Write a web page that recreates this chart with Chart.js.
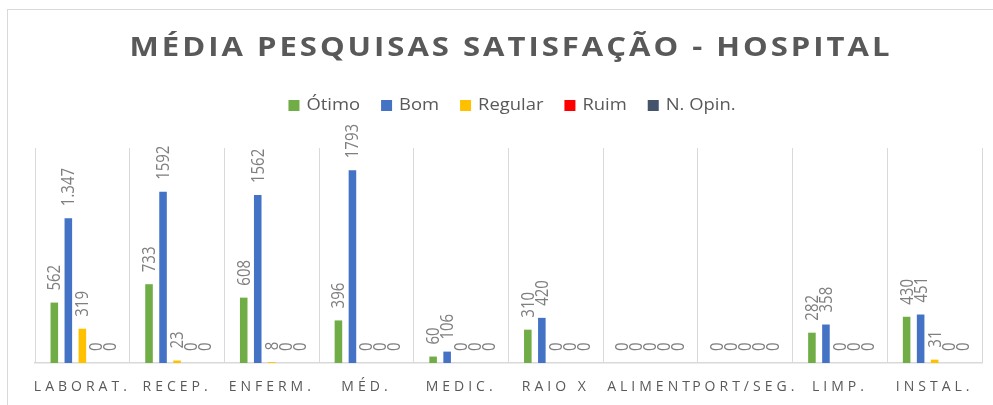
<!DOCTYPE html>
<html>
<head>
<meta charset="utf-8">
<script src="https://cdn.jsdelivr.net/npm/chart.js@4.4.0/dist/chart.umd.min.js"></script>
<style>
  html, body { margin: 0; padding: 0; background: #fff; overflow: hidden; }
  #moldura { position: absolute; left: 7px; top: 9px; width: 1004px; height: 410px; border: 1px solid #d9d9d9; }
  canvas { display: block; }
</style>
</head>
<body>
<div id="moldura"><canvas id="grafico" width="1004" height="410"></canvas></div>
<script>
const titulo = 'MÉDIA PESQUISAS SATISFAÇÃO - HOSPITAL';
const categorias = ['LABORAT.', 'RECEP.', 'ENFERM.', 'MÉD.', 'MEDIC.', 'RAIO X', 'ALIMENT', 'PORT/SEG.', 'LIMP.', 'INSTAL.'];
const otimo   = [562, 733, 608, 396, 60, 310, 0, 0, 282, 430];
const bom     = [1347, 1592, 1562, 1793, 106, 420, 0, 0, 358, 451];
const regular = [319, 23, 8, 0, 0, 0, 0, 0, 0, 31];
const ruim    = [0, 0, 0, 0, 0, 0, 0, 0, 0, 0];
const nOpin   = [0, 0, 0, 0, 0, 0, 0, 0, 0, 0];
// no original só este rótulo saiu com separador de milhar
const rotuloBomLaborat = '1.347';

const cinzaTexto = '#595959';
const esticar = 1.15; // o original tem o texto um pouco alargado

// rótulos de dados na vertical, acima de cada barra
const rotulos = {
    id: 'rotulos',
    afterDatasetsDraw(chart) {
        const ctx = chart.ctx;
        ctx.save();
        ctx.font = '15px "Open Sans"';
        ctx.fillStyle = '#7f7f7f';
        ctx.textAlign = 'left';
        ctx.textBaseline = 'middle';
        chart.data.datasets.forEach((ds, d) => {
            chart.getDatasetMeta(d).data.forEach((bar, i) => {
                let texto = String(ds.data[i]);
                if (d === 1 && i === 0) texto = rotuloBomLaborat;
                ctx.save();
                ctx.translate(bar.x + 1, bar.y - 12);
                ctx.rotate(-Math.PI / 2);
                ctx.scale(1, esticar);
                ctx.fillText(texto, 0, 0);
                ctx.restore();
            });
        });
        ctx.restore();
    }
};

// título, legenda e categorias com espaçamento entre letras
const textos = {
    id: 'textos',
    afterDraw(chart) {
        const ctx = chart.ctx;
        ctx.save();
        ctx.fillStyle = cinzaTexto;
        ctx.textBaseline = 'middle';

        ctx.save();
        ctx.font = 'bold 27px "Open Sans"';
        ctx.letterSpacing = '2.6px';
        ctx.textAlign = 'center';
        ctx.translate(chart.width / 2 + 1, 38.5);
        ctx.scale(esticar, 1);
        ctx.fillText(titulo, 0, 0);
        ctx.restore();

        ctx.font = '16px "Open Sans"';
        ctx.letterSpacing = '0px';
        ctx.textAlign = 'left';
        const itens = chart.data.datasets.map(ds => ({
            texto: ds.label,
            cor: ds.backgroundColor,
            largura: ctx.measureText(ds.label).width * esticar
        }));
        const total = itens.reduce((s, it) => s + 11 + 7 + it.largura, 0) + 21 * (itens.length - 1);
        let x = 504 - total / 2;
        itens.forEach(it => {
            ctx.fillStyle = it.cor;
            ctx.fillRect(x, 90, 11, 11);
            ctx.fillStyle = cinzaTexto;
            ctx.save();
            ctx.translate(x + 18, 95);
            ctx.scale(esticar, 1);
            ctx.fillText(it.texto, 0, 0);
            ctx.restore();
            x += 18 + it.largura + 21;
        });

        const escalaX = chart.scales.x;
        ctx.font = '14px "Open Sans"';
        ctx.letterSpacing = '4px';
        ctx.textAlign = 'center';
        categorias.forEach((c, i) => {
            ctx.fillText(c, escalaX.getPixelForValue(i), 377);
        });
        ctx.restore();
    }
};

new Chart(document.getElementById('grafico'), {
    type: 'bar',
    data: {
        labels: categorias,
        datasets: [
            { label: 'Ótimo', data: otimo, backgroundColor: '#70ad47' },
            { label: 'Bom', data: bom, backgroundColor: '#4472c4' },
            { label: 'Regular', data: regular, backgroundColor: '#ffc000' },
            { label: 'Ruim', data: ruim, backgroundColor: '#ff0000' },
            { label: 'N. Opin.', data: nOpin, backgroundColor: '#44546a' }
        ]
    },
    options: {
        responsive: false,
        animation: false,
        categoryPercentage: 0.74,
        barPercentage: 0.54,
        layout: { padding: { left: 27, right: 30, top: 138, bottom: 57 } },
        scales: {
            x: {
                grid: { color: '#d9d9d9', drawTicks: false, offset: true },
                border: { color: '#d9d9d9', width: 1.5 },
                ticks: { display: false }
            },
            y: { display: false, min: 0, max: 2000 }
        },
        plugins: {
            legend: { display: false },
            tooltip: { enabled: false }
        }
    },
    plugins: [rotulos, textos]
});
</script>
</body>
</html>
